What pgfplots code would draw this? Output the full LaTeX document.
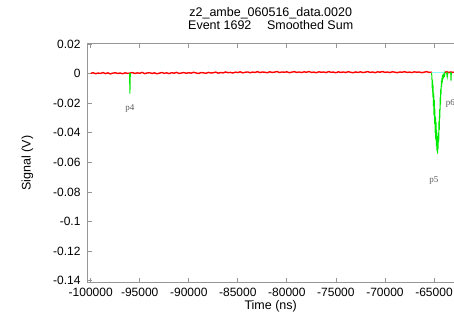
\documentclass[border=0pt]{standalone}
\usepackage{pgfplots}
\pgfplotsset{compat=1.18}
\usepackage{fontspec}
\setmainfont{Liberation Sans}
\newfontfamily\seriffont{Liberation Serif}
\usetikzlibrary{calc}
\definecolor{axgray}{RGB}{150,150,150}
\definecolor{sigred}{RGB}{255,0,0}
\definecolor{siggreen}{RGB}{0,235,0}
\definecolor{sigcyan}{RGB}{140,255,255}
\definecolor{lblgray}{RGB}{90,90,90}

\pgfplotstableread{
x y
-100000 0.0002
-99750 0.0006
-99500 -0.0001
-99250 0.0004
-99000 0.0001
-98750 0.0007
-98500 0.0000
-98250 0.0005
-98000 -0.0002
-97750 0.0003
-97500 0.0006
-97250 0.0001
-97000 0.0004
-96750 -0.0001
-96500 0.0005
-96250 0.0002
-96000 0.0003
-95750 0.0007
-95500 0.0001
-95250 0.0005
-95000 0.0002
-94750 0.0008
-94500 0.0000
-94250 0.0004
-94000 0.0006
-93750 0.0001
-93500 0.0005
-93250 -0.0001
-93000 0.0003
-92750 0.0007
-92500 0.0002
-92250 0.0005
-92000 0.0000
-91750 0.0006
-91500 0.0003
-91250 0.0008
-91000 0.0001
-90750 0.0004
-90500 0.0007
-90250 0.0002
-90000 0.0006
-89750 0.0003
-89500 0.0009
-89250 0.0004
-89000 0.0001
-88750 0.0007
-88500 0.0005
-88250 0.0002
-88000 0.0008
-87750 0.0004
-87500 0.0006
-87250 0.0010
-87000 0.0003
-86750 0.0007
-86500 0.0005
-86250 0.0011
-86000 0.0006
-85750 0.0008
-85500 0.0004
-85250 0.0010
-85000 0.0007
-84750 0.0012
-84500 0.0005
-84250 0.0009
-84000 0.0011
-83750 0.0006
-83500 0.0010
-83250 0.0008
-83000 0.0013
-82750 0.0007
-82500 0.0011
-82250 0.0009
-82000 0.0006
-81750 0.0012
-81500 0.0008
-81250 0.0010
-81000 0.0014
-80750 0.0007
-80500 0.0011
-80250 0.0009
-80000 0.0012
-79750 0.0006
-79500 0.0010
-79250 0.0013
-79000 0.0008
-78750 0.0011
-78500 0.0007
-78250 0.0012
-78000 0.0009
-77750 0.0014
-77500 0.0008
-77250 0.0010
-77000 0.0006
-76750 0.0012
-76500 0.0009
-76250 0.0011
-76000 0.0007
-75750 0.0013
-75500 0.0009
-75250 0.0010
-75000 0.0006
-74750 0.0012
-74500 0.0008
-74250 0.0011
-74000 0.0007
-73750 0.0013
-73500 0.0009
-73250 0.0006
-73000 0.0011
-72750 0.0008
-72500 0.0012
-72250 0.0007
-72000 0.0010
-71750 0.0013
-71500 0.0008
-71250 0.0011
-71000 0.0006
-70750 0.0012
-70500 0.0009
-70250 0.0014
-70000 0.0008
-69750 0.0011
-69500 0.0007
-69250 0.0012
-69000 0.0010
-68750 0.0006
-68500 0.0011
-68250 0.0009
-68000 0.0013
-67750 0.0008
-67500 0.0010
-67250 0.0007
-67000 0.0012
-66750 0.0009
-66500 0.0011
-66250 0.0006
-66000 0.0010
-65750 0.0013
-65500 0.0008
-65250 0.0010
}\redA

\pgfplotstableread{
x y
-63880 0.0009
-63700 0.0012
-63500 0.0007
-63300 0.0011
-63100 0.0008
-62960 0.0010
}\redB

\pgfplotstableread{
x y
-65240 0.0003
-65210 -0.003
-65180 -0.010
-65150 -0.004
-65120 -0.016
-65090 -0.008
-65060 -0.022
-65030 -0.013
-65000 -0.028
-64970 -0.018
-64940 -0.034
-64910 -0.024
-64880 -0.040
-64850 -0.029
-64820 -0.045
-64790 -0.033
-64760 -0.049
-64730 -0.038
-64700 -0.052
-64670 -0.042
-64640 -0.054
-64610 -0.047
-64580 -0.051
-64550 -0.040
-64520 -0.046
-64490 -0.032
-64460 -0.038
-64430 -0.024
-64400 -0.030
-64370 -0.016
-64340 -0.021
-64310 -0.010
-64280 -0.014
-64250 -0.005
-64220 -0.009
-64190 -0.003
-64160 -0.006
-64130 -0.001
-64100 -0.004
-64070 0.000
-64040 -0.003
-64010 0.000
-63980 -0.002
-63950 0.000
-63920 -0.001
-63880 0.0003
}\greenPulse

\begin{document}
\begin{tikzpicture}
\begin{axis}[
  scale only axis, width=366.6pt, height=239.4pt,
  xmin=-100336, xmax=-62961, ymin=-0.14128, ymax=0.02047,
  axis x line*=box, axis y line*=left,
  axis line style={axgray, line width=0.8pt},
  tick style={axgray, line width=0.8pt},
  major tick length=5pt,
  tick align=inside,
  scaled x ticks=false, scaled y ticks=false,
  xtick={-100000,-95000,-90000,-85000,-80000,-75000,-70000,-65000},
  xticklabels={-100000,-95000,-90000,-85000,-80000,-75000,-70000,-65000},
  ytick={-0.14,-0.12,-0.1,-0.08,-0.06,-0.04,-0.02,0,0.02},
  yticklabels={-0.14,-0.12,-0.1,-0.08,-0.06,-0.04,-0.02,0,0.02},
  xticklabel style={yshift=-2pt},
  yticklabel style={xshift=-3.4pt},
  tick label style={font=\fontsize{12}{14}\selectfont, text=black},
  label style={font=\fontsize{12.5}{15}\selectfont},
  xlabel={Time (ns)}, ylabel={Signal (V)},
  xlabel style={at={(axis description cs:0.5,-0.113)}, anchor=base, inner sep=0pt},
  ylabel style={at={(axis description cs:-0.1547,0.5)}, anchor=base, inner sep=0pt},
  title={z2\_ambe\_060516\_data.0020\\Event 1692\hspace{15.6pt}Smoothed Sum},
  title style={at={(axis description cs:0.5,1)}, anchor=north, yshift=30pt, inner sep=0pt, align=center, font=\fontsize{12.5}{10.5}\selectfont},
]
\addplot[sigred, line width=1.4pt] table[x=x,y=y] {\redA};
\addplot[sigred, line width=1.4pt] table[x=x,y=y] {\redB};
\addplot[sigcyan, line width=0.8pt] coordinates {(-65250,0.0009) (-63880,0.0009)};
\addplot[siggreen, line width=1pt] coordinates {(-96040,0.0004) (-96000,-0.0135) (-95960,0.0004)};
\addplot[siggreen, line width=1pt] table[x=x,y=y] {\greenPulse};
\addplot[siggreen, line width=1pt] coordinates {(-63720,0.0008) (-63650,-0.0023) (-63580,0.0008)};
\addplot[siggreen, line width=1pt] coordinates {(-63300,0.0008) (-63266,-0.0048) (-63230,0.0008)};
\node[font=\seriffont\fontsize{9}{9}\selectfont, text=lblgray] at (axis cs:-95993,-0.0239) {p4};
\node[font=\seriffont\fontsize{9}{9}\selectfont, text=lblgray] at (axis cs:-65020,-0.0721) {p5};
\node[font=\seriffont\fontsize{9}{9}\selectfont, text=lblgray, anchor=west, inner sep=0pt] at (axis cs:-63800,-0.0201) {p6};
\end{axis}
\pgfresetboundingbox
\path[use as bounding box] ($(current axis.south west)+(-87.4pt,-41.3pt)$) rectangle ($(current axis.north east)+(0pt,43.3pt)$);
\end{tikzpicture}
\end{document}
